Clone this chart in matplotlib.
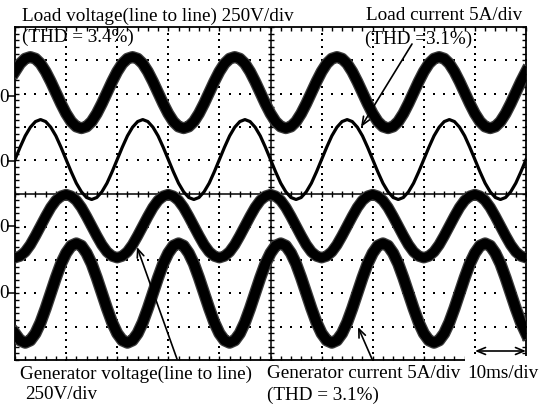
import matplotlib
matplotlib.use('Agg')
import matplotlib.pyplot as plt
import numpy as np
from matplotlib.patches import Rectangle
from matplotlib.lines import Line2D

plt.rcParams['font.family'] = ['Liberation Serif', 'DejaVu Serif']

# scope screen: 10 x 10 divisions, 10 ms/div, samples every 0.1 div
t_div = np.linspace(0, 10, 101)

# trace levels in divisions
load_voltage = [
    3.66, 3.90, 4.05, 4.10, 4.05, 3.90, 3.66, 3.36, 3.03, 2.70,
    2.40, 2.16, 2.01, 1.96, 2.01, 2.16, 2.40, 2.70, 3.03, 3.36,
    3.66, 3.90, 4.05, 4.10, 4.05, 3.90, 3.66, 3.36, 3.03, 2.70,
    2.40, 2.16, 2.01, 1.96, 2.01, 2.16, 2.40, 2.70, 3.03, 3.36,
    3.66, 3.90, 4.05, 4.10, 4.05, 3.90, 3.66, 3.36, 3.03, 2.70,
    2.40, 2.16, 2.01, 1.96, 2.01, 2.16, 2.40, 2.70, 3.03, 3.36,
    3.66, 3.90, 4.05, 4.10, 4.05, 3.90, 3.66, 3.36, 3.03, 2.70,
    2.40, 2.16, 2.01, 1.96, 2.01, 2.16, 2.40, 2.70, 3.03, 3.36,
    3.66, 3.90, 4.05, 4.10, 4.05, 3.90, 3.66, 3.36, 3.03, 2.70,
    2.40, 2.16, 2.01, 1.96, 2.01, 2.16, 2.40, 2.70, 3.03, 3.36,
    3.66]
load_current = [
    1.02, 1.39, 1.73, 1.99, 2.16, 2.22, 2.16, 1.99, 1.73, 1.39,
    1.02, 0.65, 0.31, 0.05, -0.12, -0.18, -0.12, 0.05, 0.31, 0.65,
    1.02, 1.39, 1.73, 1.99, 2.16, 2.22, 2.16, 1.99, 1.73, 1.39,
    1.02, 0.65, 0.31, 0.05, -0.12, -0.18, -0.12, 0.05, 0.31, 0.65,
    1.02, 1.39, 1.73, 1.99, 2.16, 2.22, 2.16, 1.99, 1.73, 1.39,
    1.02, 0.65, 0.31, 0.05, -0.12, -0.18, -0.12, 0.05, 0.31, 0.65,
    1.02, 1.39, 1.73, 1.99, 2.16, 2.22, 2.16, 1.99, 1.73, 1.39,
    1.02, 0.65, 0.31, 0.05, -0.12, -0.18, -0.12, 0.05, 0.31, 0.65,
    1.02, 1.39, 1.73, 1.99, 2.16, 2.22, 2.16, 1.99, 1.73, 1.39,
    1.02, 0.65, 0.31, 0.05, -0.12, -0.18, -0.12, 0.05, 0.31, 0.65,
    1.02]
gen_voltage = [
    -1.93, -1.88, -1.75, -1.54, -1.27, -0.98, -0.69, -0.42, -0.21, -0.08,
    -0.03, -0.08, -0.21, -0.42, -0.69, -0.98, -1.27, -1.54, -1.75, -1.88,
    -1.93, -1.88, -1.75, -1.54, -1.27, -0.98, -0.69, -0.42, -0.21, -0.08,
    -0.03, -0.08, -0.21, -0.42, -0.69, -0.98, -1.27, -1.54, -1.75, -1.88,
    -1.93, -1.88, -1.75, -1.54, -1.27, -0.98, -0.69, -0.42, -0.21, -0.08,
    -0.03, -0.08, -0.21, -0.42, -0.69, -0.98, -1.27, -1.54, -1.75, -1.88,
    -1.93, -1.88, -1.75, -1.54, -1.27, -0.98, -0.69, -0.42, -0.21, -0.08,
    -0.03, -0.08, -0.21, -0.42, -0.69, -0.98, -1.27, -1.54, -1.75, -1.88,
    -1.93, -1.88, -1.75, -1.54, -1.27, -0.98, -0.69, -0.42, -0.21, -0.08,
    -0.03, -0.08, -0.21, -0.42, -0.69, -0.98, -1.27, -1.54, -1.75, -1.88,
    -1.93]
gen_current = [
    -4.20, -4.41, -4.48, -4.41, -4.20, -3.87, -3.45, -2.99, -2.53, -2.11,
    -1.79, -1.57, -1.50, -1.57, -1.79, -2.11, -2.53, -2.99, -3.45, -3.87,
    -4.20, -4.41, -4.48, -4.41, -4.20, -3.87, -3.45, -2.99, -2.53, -2.11,
    -1.79, -1.57, -1.50, -1.57, -1.79, -2.11, -2.53, -2.99, -3.45, -3.87,
    -4.20, -4.41, -4.48, -4.41, -4.20, -3.87, -3.45, -2.99, -2.53, -2.11,
    -1.79, -1.57, -1.50, -1.57, -1.79, -2.11, -2.53, -2.99, -3.45, -3.87,
    -4.20, -4.41, -4.48, -4.41, -4.20, -3.87, -3.45, -2.99, -2.53, -2.11,
    -1.79, -1.57, -1.50, -1.57, -1.79, -2.11, -2.53, -2.99, -3.45, -3.87,
    -4.20, -4.41, -4.48, -4.41, -4.20, -3.87, -3.45, -2.99, -2.53, -2.11,
    -1.79, -1.57, -1.50, -1.57, -1.79, -2.11, -2.53, -2.99, -3.45, -3.87,
    -4.20]

# channel ground markers on the left edge
channel_zero = [2.9, 0.95, -1.0, -3.0]

W, H = 544, 406


def P(px, py):
    # image pixel -> figure fraction
    return px / W, 1 - py / H


fig = plt.figure(figsize=(W / 100, H / 100), dpi=100)
ax = fig.add_axes([15 / W, 45 / H, 511 / W, 333 / H])
ax.set_xlim(0, 10)
ax.set_ylim(-5, 5)

# dotted graticule
fine = np.linspace(-5, 5, 51)
fine_x = np.linspace(0, 10, 51)
for k in range(1, 10):
    if k != 5:
        ax.plot(np.full_like(fine, k), fine, 's', color='k', ms=1.8, mew=0, zorder=1)
        ax.plot(fine_x, np.full_like(fine_x, k - 5), 's', color='k', ms=1.8, mew=0, zorder=1)

# centre axes with small ticks
ax.axhline(0, color='k', lw=1.1, zorder=1)
ax.axvline(5, color='k', lw=1.1, zorder=1)
ax.plot(fine_x, np.zeros_like(fine_x), '|', color='k', ms=4.5, mew=1, zorder=1)
ax.plot(np.full_like(fine, 5), fine, '_', color='k', ms=4.5, mew=1, zorder=1)

ax.set_xticks(np.arange(0, 11, 1))
ax.set_yticks(np.arange(-5, 6, 1))
ax.set_xticks(fine_x, minor=True)
ax.set_yticks(fine, minor=True)
ax.tick_params(which='both', direction='in', length=3, width=1,
               top=True, right=True, labelbottom=False, labelleft=False)
for s in ax.spines.values():
    s.set_linewidth(1.3)

# traces: noisy ones get a grey fuzz under a black core
for y, core, fuzz in [(load_voltage, 6.8, 8.6), (gen_voltage, 6.5, 8.2), (gen_current, 7.0, 8.8)]:
    ax.plot(t_div, y, color='#3c3c3c', lw=fuzz, zorder=3, solid_joinstyle='round')
    ax.plot(t_div, y, color='k', lw=core, zorder=4, solid_joinstyle='round')
ax.plot(t_div, load_current, color='k', lw=2.3, zorder=5)

fs = 13.8

# ground markers
for lvl in channel_zero:
    py = 194 - lvl * 33.3
    fig.text(*P(8.5, py), '0', ha='right', va='center', fontsize=fs)
    fig.add_artist(Line2D([8 / W, 15 / W], [1 - py / H] * 2, color='k', lw=1.1,
                          transform=fig.transFigure))

fig.text(*P(22, 16), 'Load voltage(line to line) 250V/div', ha='left', va='center', fontsize=fs)
fig.text(*P(22, 37), '(THD = 3.4%)', ha='left', va='center', fontsize=fs)
fig.text(*P(522, 16), 'Load current 5A/div', ha='right', va='center', fontsize=fs)
fig.text(*P(365, 39), '(THD =3.1%)', ha='left', va='center', fontsize=fs)

fig.text(*P(20, 374), 'Generator voltage(line to line)', ha='left', va='center', fontsize=fs)
fig.text(*P(25, 395), '250V/div', ha='left', va='center', fontsize=fs)
fig.text(*P(267, 374), 'Generator current 5A/div', ha='left', va='center', fontsize=fs)
fig.text(*P(267, 395), '(THD = 3.1%)', ha='left', va='center', fontsize=fs)

fig.add_artist(Rectangle(P(465, 385), 79 / W, 28 / H, transform=fig.transFigure,
                         facecolor='white', edgecolor='none', zorder=5))
fig.text(*P(467, 374), '10ms/div', ha='left', va='center', fontsize=fs, zorder=6)

arrow = dict(arrowstyle='->,head_length=0.6,head_width=0.25', color='k', lw=1.2,
             shrinkA=0, shrinkB=0)
for tail, tip in [((412, 45), (361, 128)), ((177, 360), (137, 248)), ((372, 360), (358, 328))]:
    fig.add_artist(plt.Annotation('', xy=P(*tip), xytext=P(*tail), xycoords='figure fraction',
                                  arrowprops=arrow, annotation_clip=False))
dbl = dict(arrowstyle='<->,head_length=0.6,head_width=0.25', color='k', lw=1.2,
           shrinkA=0, shrinkB=0)
fig.add_artist(plt.Annotation('', xy=P(526, 352), xytext=P(475, 352), xycoords='figure fraction',
                              arrowprops=dbl, annotation_clip=False, zorder=6))

fig.savefig('out.png', dpi=100)
